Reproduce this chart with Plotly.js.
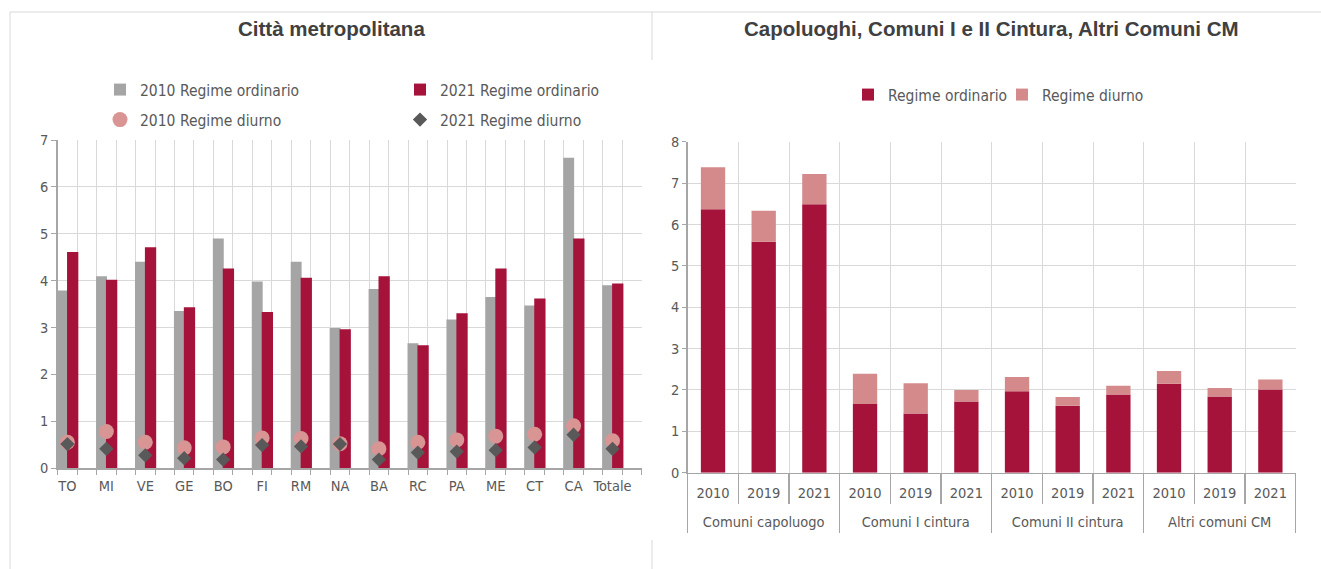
<!DOCTYPE html>
<html>
<head>
<meta charset="utf-8">
<script src="https://cdn.plot.ly/plotly-3.0.1.min.js"></script>
<style>html,body{margin:0;padding:0;background:#fff;}#chart{width:1321px;height:569px;}</style>
</head>
<body>
<div id="chart"></div>
<script>
// ---- Data: left chart (Città metropolitana)
const categorie = ['TO','MI','VE','GE','BO','FI','RM','NA','BA','RC','PA','ME','CT','CA','Totale'];
const ordinario2010 = [3.79,4.09,4.40,3.35,4.90,3.98,4.40,2.99,3.82,2.66,3.17,3.65,3.47,6.62,3.90];
const ordinario2021 = [4.61,4.02,4.71,3.43,4.26,3.33,4.06,2.96,4.09,2.62,3.30,4.26,3.62,4.90,3.94];
const diurno2010 = [0.55,0.78,0.55,0.43,0.45,0.64,0.63,0.52,0.41,0.55,0.60,0.68,0.72,0.90,0.58];
const diurno2021 = [0.51,0.41,0.27,0.21,0.18,0.49,0.46,0.51,0.18,0.33,0.35,0.38,0.44,0.71,0.41];

// ---- Data: right chart
const gruppi = ['Comuni capoluogo','Comuni I cintura','Comuni II cintura','Altri comuni CM'];
const anni = ['2010','2019','2021'];
const regimeOrdinario = [6.37,5.58,6.49, 1.66,1.43,1.72, 1.97,1.62,1.89, 2.15,1.84,2.01];
const regimeDiurno   = [1.01,0.75,0.73, 0.73,0.73,0.28, 0.34,0.21,0.21, 0.31,0.21,0.24];

const W = 1321, H = 569;
const NARROW = '"Liberation Sans Narrow", "Arial Narrow", "DejaVu Sans Condensed", sans-serif';
const BOLD = '"Liberation Sans", Arial, sans-serif';
const idx = categorie.map((c, i) => i);

// right chart: one position per (gruppo, anno), labelled with the year; groups labelled at their centre
const etichetteAnni = [], posizioni = [];
gruppi.forEach((g, gi) => anni.forEach((a, ai) => { etichetteAnni.push(a); posizioni.push(gi * anni.length + ai); }));
const centriGruppi = gruppi.map((g, gi) => gi * anni.length + (anni.length - 1) / 2);
const nPos = posizioni.length;

const px = v => v / W;
const py = v => 1 - v / H;

const traces = [
  {type:'bar', name:'2010 Regime ordinario', x: idx, y: ordinario2010, xaxis:'x', yaxis:'y',
   width:0.28, offset:-0.265, marker:{color:'#A5A5A5'}, legend:'legend'},
  {type:'bar', name:'2021 Regime ordinario', x: idx, y: ordinario2021, xaxis:'x', yaxis:'y',
   width:0.29, offset:-0.01, marker:{color:'#A6133A'}, legend:'legend'},
  {type:'scatter', mode:'markers', name:'2010 Regime diurno', x: idx, y: diurno2010, xaxis:'x', yaxis:'y',
   marker:{symbol:'circle', size:15, color:'#D99594'}, legend:'legend2', cliponaxis:false},
  {type:'scatter', mode:'markers', name:'2021 Regime diurno', x: idx, y: diurno2021, xaxis:'x', yaxis:'y',
   marker:{symbol:'diamond', size:11, color:'#595959'}, legend:'legend2', cliponaxis:false},
  {type:'bar', name:'Regime ordinario', x: posizioni, y: regimeOrdinario, xaxis:'x2', yaxis:'y2',
   width:0.48, marker:{color:'#A6133A'}, legend:'legend3'},
  {type:'bar', name:'Regime diurno', x: posizioni, y: regimeDiurno, base: regimeOrdinario, xaxis:'x3', yaxis:'y2',
   width:0.48, marker:{color:'#D48A8A'}, legend:'legend3'}
];

const tickFont = {family: NARROW, size:14.5, color:'#595959'};
const legFont = {family: NARROW, size:15.5, color:'#595959'};

const layout = {
  width:W, height:H, margin:{l:0,r:0,t:0,b:0},
  paper_bgcolor:'#fff', plot_bgcolor:'rgba(0,0,0,0)',
  barmode:'overlay', showlegend:true, hovermode:false,
  xaxis:{domain:[px(57.7), px(641.7)], range:[-0.25, 14.75], tickmode:'array', tickvals: idx, ticktext: categorie,
    showgrid:false, zeroline:false, ticks:'', tickfont: tickFont, ticklabelstandoff:4, showline:true, linecolor:'#A6A6A6', linewidth:1.5,
    minor:{tickmode:'linear', tick0:-0.25, dtick:0.5, showgrid:true, gridcolor:'#D9D9D9', gridwidth:1, ticks:'outside', ticklen:5, tickcolor:'#A6A6A6'},
    anchor:'y'},
  yaxis:{domain:[py(468), py(140)], range:[0,7], dtick:1, showgrid:true, gridcolor:'#D9D9D9', zeroline:false,
    showline:true, linecolor:'#A6A6A6', linewidth:1.5, ticks:'outside', ticklen:5, tickcolor:'#A6A6A6', tickfont: tickFont, anchor:'x'},
  xaxis2:{domain:[px(687.7), px(1295.7)], range:[-0.5, nPos - 0.5], tickmode:'array', tickvals: posizioni, ticktext: etichetteAnni,
    showgrid:false, zeroline:false, ticks:'', tickfont: tickFont, ticklabelstandoff:6,
    showline:true, linecolor:'#A6A6A6', linewidth:1.5,
    minor:{tickmode:'linear', tick0:-0.5, dtick:1, showgrid:true, gridcolor:'#D9D9D9', gridwidth:1, ticks:'outside', ticklen:30, tickcolor:'#A6A6A6', tickwidth:1.5},
    anchor:'y2'},
  xaxis3:{domain:[px(687.7), px(1295.7)], overlaying:'x2', anchor:'y2', side:'bottom', range:[-0.5, nPos - 0.5],
    tickmode:'array', tickvals: centriGruppi, ticktext: gruppi, ticks:'', showgrid:false, zeroline:false, showline:false,
    tickfont: tickFont, ticklabelstandoff:39,
    minor:{tickmode:'linear', tick0:-0.5, dtick:anni.length, showgrid:false, ticks:'outside', ticklen:59, tickcolor:'#A6A6A6', tickwidth:1.5}},
  yaxis2:{domain:[py(472.7), py(141.7)], range:[0,8], dtick:1, showgrid:true, gridcolor:'#D9D9D9', zeroline:false,
    showline:true, linecolor:'#A6A6A6', linewidth:1.5, ticks:'outside', ticklen:4, tickcolor:'#A6A6A6', tickfont: tickFont, anchor:'x2'},
  legend:{orientation:'h', x:px(100), y:py(73), xanchor:'left', yanchor:'top', entrywidth:255, font: legFont, bgcolor:'rgba(0,0,0,0)', traceorder:'normal'},
  legend2:{orientation:'h', x:px(100), y:py(103), xanchor:'left', yanchor:'top', entrywidth:255, font: legFont, bgcolor:'rgba(0,0,0,0)', traceorder:'normal'},
  legend3:{orientation:'h', x:px(848), y:py(78), xanchor:'left', yanchor:'top', entrywidth:109, font: legFont, bgcolor:'rgba(0,0,0,0)', traceorder:'normal'},
  annotations:[
    {text:'Città metropolitana', xref:'paper', yref:'paper', x:px(331), y:py(29), xanchor:'center', yanchor:'middle', showarrow:false,
     font:{family: BOLD, size:20.5, color:'#404040', weight:'bold'}},
    {text:'Capoluoghi, Comuni I e II Cintura, Altri Comuni CM', xref:'paper', yref:'paper', x:px(991.5), y:py(29), xanchor:'center', yanchor:'middle', showarrow:false,
     font:{family: BOLD, size:20.5, color:'#404040', weight:'bold'}}
  ],
  shapes:[
    {type:'line', xref:'paper', yref:'paper', x0:px(10), x1:1, y0:py(12), y1:py(12), line:{color:'#D9D9D9', width:1}},
    {type:'line', xref:'paper', yref:'paper', x0:px(10), x1:px(10), y0:py(12), y1:0, line:{color:'#D9D9D9', width:1}},
    {type:'line', xref:'paper', yref:'paper', x0:px(652), x1:px(652), y0:py(12), y1:py(60), line:{color:'#D9D9D9', width:1}},
    {type:'line', xref:'paper', yref:'paper', x0:px(652), x1:px(652), y0:py(540), y1:0, line:{color:'#D9D9D9', width:1}}
  ]
};

Plotly.newPlot('chart', traces, layout, {displayModeBar:false, staticPlot:true});
</script>
</body>
</html>
